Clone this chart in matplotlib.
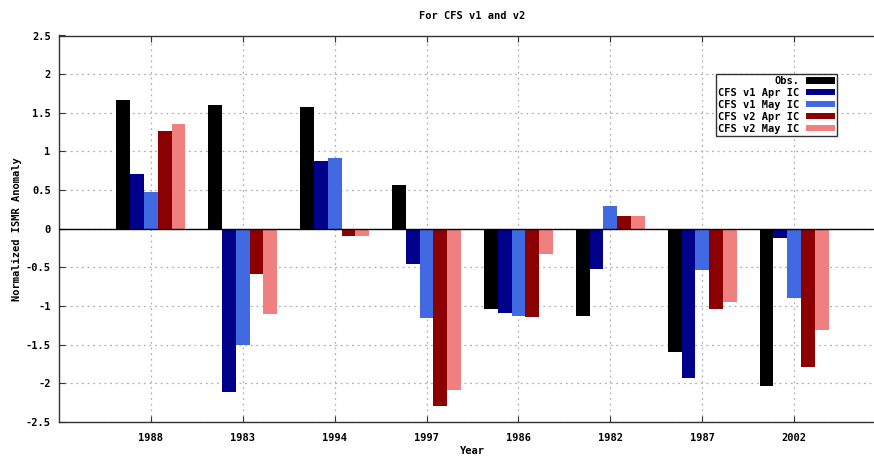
import numpy as np
import matplotlib
matplotlib.use("Agg")
import matplotlib.pyplot as plt
from matplotlib.patches import Patch

# -- data: normalized ISMR anomaly per year -- #
years = ["1988", "1983", "1994", "1997", "1986", "1982", "1987", "2002"]
obs = [1.67, 1.60, 1.57, 0.56, -1.04, -1.13, -1.59, -2.03]
v1_apr = [0.71, -2.11, 0.88, -0.46, -1.09, -0.52, -1.93, -0.12]
v1_may = [0.48, -1.50, 0.91, -1.15, -1.13, 0.30, -0.54, -0.90]
v2_apr = [1.26, -0.58, -0.09, -2.29, -1.14, 0.16, -1.04, -1.79]
v2_may = [1.35, -1.10, -0.09, -2.09, -0.33, 0.16, -0.95, -1.31]

series = [obs, v1_apr, v1_may, v2_apr, v2_may]
names = ["Obs.", "CFS v1 Apr IC", "CFS v1 May IC", "CFS v2 Apr IC", "CFS v2 May IC"]
colors = ["#000000", "#00008b", "#4169e1", "#8b0000", "#f08080"]

yticks = [2.5, 2, 1.5, 1, 0.5, 0, -0.5, -1, -1.5, -2, -2.5]
ytick_labels = ["2.5", "2", "1.5", "1", "0.5", "0", "-0.5", "-1", "-1.5", "-2", "-2.5"]

plt.rcParams['font.family'] = ['DejaVu Sans Mono']
plt.rcParams['font.weight'] = 'bold'
fs = 7.5

fig = plt.figure(figsize=(8.74, 4.59), dpi=100)
# plot area runs a bit past the right edge of the canvas
ax = fig.add_axes([59/874, 37/459, 827/874, 386.5/459])

x = np.arange(len(years))
w = 0.15
for k in range(len(series)):
    ax.bar(x + (k - 2) * w, series[k], width=w, color=colors[k],
           edgecolor='none', zorder=3)

ax.axhline(0, color='black', lw=1.0, zorder=4)

ax.set_xlim(-1, 8)
ax.set_ylim(-2.5, 2.5)
ax.set_xticks(x)
ax.set_xticklabels(years, fontsize=fs, fontweight='bold')
ax.set_yticks(yticks)
ax.set_yticklabels(ytick_labels, fontsize=fs, fontweight='bold')
ax.tick_params(direction='in', top=True, right=False, length=4, width=0.8,
               color='#333333')
ax.tick_params(axis='y', pad=6)
ax.tick_params(axis='x', pad=8)

ax.grid(True, color='#b0b0b0', linestyle=(0, (1.5, 3)), lw=0.9, zorder=0)
for s in ['left', 'bottom', 'top']:
    ax.spines[s].set_color('#333333')
    ax.spines[s].set_linewidth(1.0)
ax.spines['right'].set_visible(False)

ax.set_title("For CFS v1 and v2", fontsize=fs, fontweight='bold', pad=12)
ax.set_xlabel("Year", fontsize=fs, fontweight='bold', labelpad=2)
ax.set_ylabel("Normalized ISMR Anomaly", fontsize=fs, fontweight='bold', labelpad=3)

# legend box: labels right-aligned, colour sample on the right
handles = [Patch(facecolor=c, edgecolor='none') for c in colors]
lx = (716 - 59) / 827
ly = 1 - (74 - 35.5) / 386.5
leg = ax.legend(handles, names, loc='upper left', bbox_to_anchor=(lx, ly),
                markerfirst=False, fontsize=fs, frameon=True, fancybox=False,
                handlelength=2.8, handleheight=0.55, labelspacing=0.18,
                borderpad=0.2, handletextpad=0.6, borderaxespad=0)
leg.get_frame().set_edgecolor('black')
leg.get_frame().set_linewidth(1.0)
leg.set_zorder(5)

plt.savefig("out.png", dpi=100)
plt.close()
